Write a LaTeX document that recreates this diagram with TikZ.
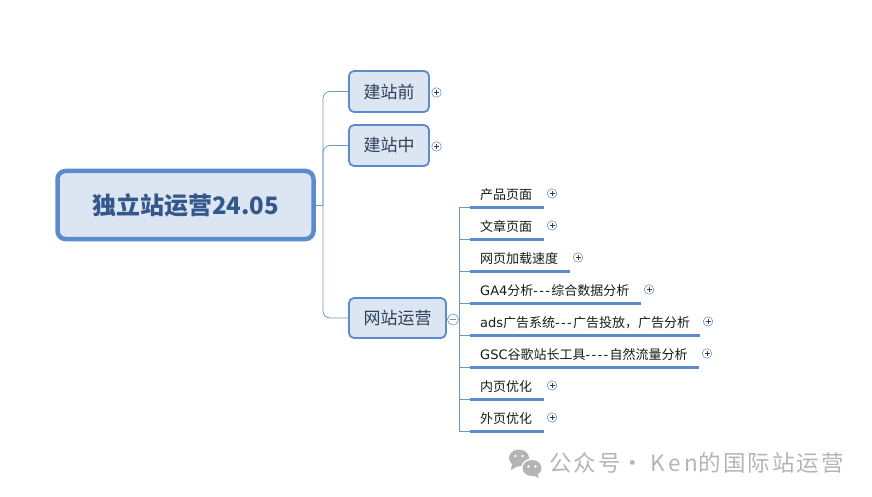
\documentclass[tikz,border=0pt]{standalone}
\usepackage{fontspec}
\usepackage{xcolor}
\usepackage{tikz}
\setmainfont{Noto Sans CJK SC}
\newfontfamily\latinpart{DejaVu Sans}
\usetikzlibrary{positioning, calc}
\definecolor{accBlue}{HTML}{5B8BCB}
\definecolor{twigBlue}{HTML}{6F94C2}
\definecolor{fillBlue}{HTML}{DCE6F3}
\definecolor{rootText}{HTML}{34588C}
\definecolor{topicText}{HTML}{2E3F57}
\definecolor{markGray}{HTML}{B4B4B4}
\newcommand{\lat}[1]{{\latinpart #1}}
\newcommand{\dsh}{-\kern1.3pt}
\tikzset{
  rootbox/.style={draw=accBlue, fill=fillBlue, line width=4.5pt, rounded corners=8pt, text=rootText, font=\fontsize{24}{28}\selectfont\bfseries, inner sep=0pt},
  topicbox/.style={draw=accBlue, fill=fillBlue, line width=1.8pt, rounded corners=5pt, text=topicText, font=\fontsize{17}{20}\selectfont, inner sep=0pt},
  itemtext/.style={anchor=west, text=black!90, font=\fontsize{13}{16}\selectfont, inner sep=0pt},
  twig/.style={twigBlue, line width=0.8pt},
  itemline/.style={accBlue, line width=3pt},
  togglebase/.style={circle, draw=twigBlue, fill=white, line width=0.6pt, minimum size=#1, inner sep=0pt},
  plusmark/.style={togglebase=9.5pt, path picture={
    \draw[topicText, line width=0.6pt] ($(path picture bounding box.center)+(-2.5,0)$) -- ($(path picture bounding box.center)+(2.5,0)$);
    \draw[topicText, line width=0.6pt] ($(path picture bounding box.center)+(0,-2.5)$) -- ($(path picture bounding box.center)+(0,2.5)$);}},
  minusmark/.style={togglebase=11pt, path picture={
    \draw[twigBlue, line width=0.6pt] ($(path picture bounding box.center)+(-3,0)$) -- ($(path picture bounding box.center)+(3,0)$);}},
}

\begin{document}
\begin{tikzpicture}[x=1pt, y=-1pt]
  \useasboundingbox (0,0) rectangle (872,497);

  % LEFT: root and first level
  \node[rootbox, minimum width=256pt, minimum height=68pt] (rootnode) at (185.5,205) {独立站运营24.05};
  \node[topicbox, minimum width=80pt, minimum height=41pt] (before) at (389,91.5) {建站前};
  \node[topicbox, minimum width=80pt, minimum height=41pt] (during) at (389,145.5) {建站中};
  \node[topicbox, minimum width=97pt, minimum height=40pt] (running) at (397.5,318) {网站运营};
  \coordinate (fork) at (323,205);
  \draw[twig] (rootnode.east) -- (fork);
  \foreach \t in {before, during, running} {
    \draw[twig, rounded corners=7pt] (fork) |- (\t.west);
  }
  \node[plusmark] (beforeplus) at (436.5,92.5) {};
  \node[plusmark] (duringplus) at (436.5,146.5) {};

  % RIGHT: second level under running
  \node[minusmark] (runningminus) at (453,319.5) {};
  \coordinate (hub) at (459,319.5);
  \draw[twig] (running.east) -- (runningminus.west);
  \draw[twig] (runningminus.east) -- (hub);
  \foreach \n/\y/\xe/\xp/\txt in {
    1/207/544/552/产品页面,
    2/239/544/552/文章页面,
    3/271/570/578/网页加载速度,
    4/303/641/649/\lat{GA4}分析\lat{\dsh\dsh\dsh}综合数据分析,
    5/335/700/708/\lat{ads}广告系统\lat{\dsh\dsh\dsh}广告投放，广告分析,
    6/367/699/707/\lat{GSC}谷歌站长工具\lat{\dsh\dsh\dsh\dsh}自然流量分析,
    7/399/544/552/内页优化,
    8/431/544/552/外页优化} {
    \coordinate (itemstart\n) at (470,\y);
    \coordinate (itemend\n) at (\xe,\y);
    \draw[twig] (hub) |- (itemstart\n);
    \draw[itemline] (itemstart\n) -- (itemend\n);
    \node[itemtext] (item\n) at (480,\y-12.5) {\txt};
    \node[plusmark] (itemplus\n) at (\xp,\y-13.5) {};
  }

  % watermark
  \fill[markGray] (519,458) ellipse (10 and 8.5);
  \fill[markGray] (512,464) -- (511,470) -- (518,466) -- cycle;
  \fill[white] (532,468) ellipse (11 and 9.5);
  \fill[markGray] (532,468) ellipse (9.5 and 8);
  \fill[markGray] (537,473) -- (539,478) -- (532,475) -- cycle;
  \foreach \ex/\ey in {515.5/456, 522.5/456, 528.5/466.5, 535.5/466.5} {
    \fill[white] (\ex,\ey) circle (1.4);
  }
  \node[anchor=west, text=markGray, font=\fontsize{22.5}{26}\selectfont\addfontfeature{LetterSpace=9}, inner sep=0pt] (watermark) at (549,463) {公众号 \hspace{-6pt}· \hspace{-1pt}{\addfontfeature{LetterSpace=17}Ken}的国际站运营};
\end{tikzpicture}
\end{document}
